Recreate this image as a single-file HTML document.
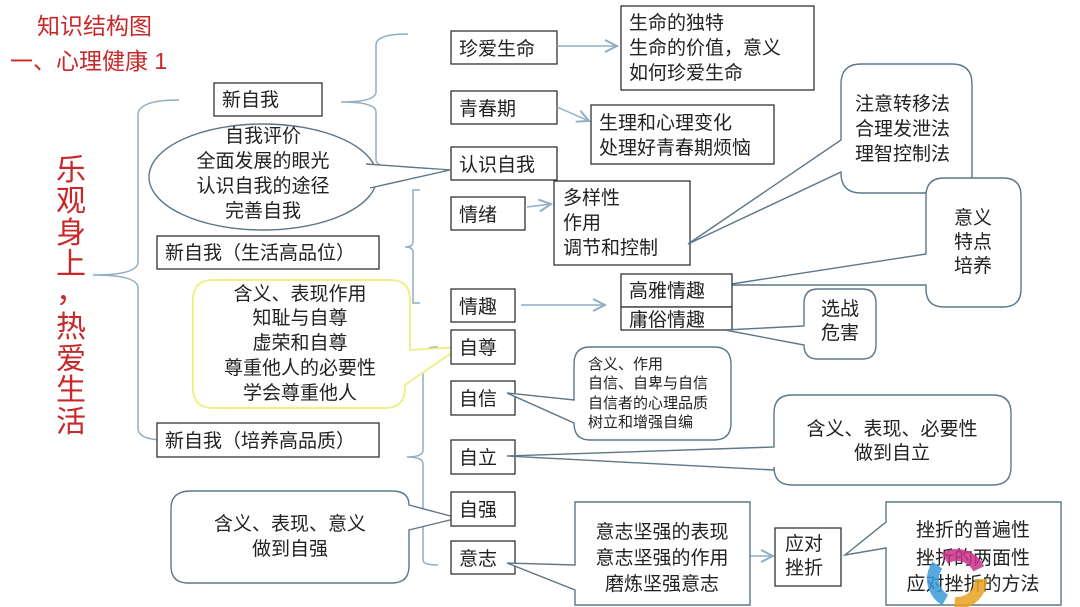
<!DOCTYPE html>
<html><head><meta charset="utf-8"><style>
html,body{margin:0;padding:0;background:#fff}
svg{display:block}
text{font-family:"Liberation Sans","Noto Sans CJK SC",sans-serif;fill:#222;font-size:19px}
.r{fill:#c8282a}
.b{fill:#fff;stroke:#333;stroke-width:1.3}
.c{fill:none;stroke:#8fadc4;stroke-width:1.5}
.t{fill:#fff;stroke:#5d7688;stroke-width:1.4}
.m{text-anchor:middle}
</style></head><body>
<svg width="1080" height="607" viewBox="0 0 1080 607" xmlns="http://www.w3.org/2000/svg">
<defs><marker id="a" markerWidth="10" markerHeight="10" refX="9" refY="5" orient="auto"><path d="M1,1 L9,5 L1,9" fill="none" stroke="#8fadc4" stroke-width="1.3"/></marker></defs>

<text x="37" y="34" class="r" style="font-size:23px">知识结构图</text>
<text x="10" y="69" class="r" style="font-size:23px">一、心理健康 1</text>
<text x="56" y="180" class="r" style="font-size:30px">乐</text>
<text x="56" y="211" class="r" style="font-size:30px">观</text>
<text x="56" y="243" class="r" style="font-size:30px">身</text>
<text x="56" y="274" class="r" style="font-size:30px">上</text>
<text x="56" y="302" class="r" style="font-size:30px">，</text>
<text x="56" y="337" class="r" style="font-size:30px">热</text>
<text x="56" y="369" class="r" style="font-size:30px">爱</text>
<text x="56" y="400" class="r" style="font-size:30px">生</text>
<text x="56" y="432" class="r" style="font-size:30px">活</text>

<!-- braces -->
<path class="c" d="M179,100 Q138,100 138,115 L138,262 Q138,275 93,275 Q138,275 138,288 L138,428 Q138,440 165,440"/>
<path class="c" d="M408,34 Q376,34 376,45 L376,92 Q376,102 341,102 Q376,102 376,112 L376,160 Q376,168 408,168"/>
<path class="c" d="M420,190 L413,190 L413,242 Q413,247 405,247 Q413,247 413,252 L413,303 L420,303"/>
<path class="c" d="M438,347 Q423,347 423,355 L423,450 Q423,457 407,457 Q423,457 423,464 L423,560 Q423,565 438,565"/>

<!-- left boxes -->
<rect class="b" x="214" y="83" width="108" height="33"/>
<text x="222" y="106">新自我</text>
<ellipse cx="263" cy="177" rx="114" ry="53" fill="#fff" stroke="#5d7688" stroke-width="1.4"/>
<path d="M366,164 L450,170 L370,188" fill="#fff" stroke="#5d7688" stroke-width="1.4"/>
<path d="M362,166 L444,170 L366,185 Z" fill="#fff"/>
<text x="263" y="142" class="m">自我评价</text>
<text x="263" y="167" class="m">全面发展的眼光</text>
<text x="263" y="192" class="m">认识自我的途径</text>
<text x="263" y="217" class="m">完善自我</text>
<rect class="b" x="157" y="236" width="222" height="33"/>
<text x="165" y="259">新自我（生活高品位）</text>

<path d="M213,280 L390,280 Q410,280 410,300 L410,350 L460,347 L405,385 L405,388 Q405,408 385,408 L213,408 Q193,408 193,388 L193,300 Q193,280 213,280 Z" fill="#fff" stroke="#eef08a" stroke-width="2"/>
<text x="300" y="300" class="m">含义、表现作用</text>
<text x="300" y="324" class="m">知耻与自尊</text>
<text x="300" y="349" class="m">虚荣和自尊</text>
<text x="300" y="374" class="m">尊重他人的必要性</text>
<text x="300" y="399" class="m">学会尊重他人</text>
<rect class="b" x="157" y="423" width="222" height="34"/>
<text x="165" y="447">新自我（培养高品质）</text>

<path class="t" d="M191,491 L392,491 Q409,491 409,505 L458,518 L409,530 L409,566 Q409,583 392,583 L188,583 Q171,583 171,566 L171,508 Q171,491 191,491 Z"/>
<text x="290" y="530" class="m">含义、表现、意义</text>
<text x="290" y="555" class="m">做到自强</text>

<!-- column 2 -->
<rect class="b" x="451" y="31" width="106" height="33"/><text x="459" y="55">珍爱生命</text>
<rect class="b" x="451" y="91" width="106" height="33"/><text x="459" y="115">青春期</text>
<rect class="b" x="451" y="147" width="106" height="33"/><text x="459" y="171">认识自我</text>
<rect class="b" x="451" y="197" width="74" height="33"/><text x="459" y="221">情绪</text>
<rect class="b" x="451" y="289" width="64" height="33"/><text x="459" y="313">情趣</text>
<rect class="b" x="451" y="330" width="64" height="34"/><text x="459" y="354">自尊</text>
<rect class="b" x="451" y="381" width="64" height="34"/><text x="459" y="405">自信</text>
<rect class="b" x="451" y="440" width="64" height="34"/><text x="459" y="464">自立</text>
<rect class="b" x="451" y="492" width="64" height="34"/><text x="459" y="516">自强</text>
<rect class="b" x="451" y="541" width="64" height="33"/><text x="459" y="565">意志</text>

<!-- arrows -->
<line class="c" x1="557" y1="46" x2="617" y2="46" marker-end="url(#a)"/>
<line class="c" x1="557" y1="107" x2="589" y2="121" marker-end="url(#a)"/>
<line class="c" x1="527" y1="207" x2="551" y2="204" marker-end="url(#a)"/>
<line class="c" x1="521" y1="305" x2="605" y2="305" marker-end="url(#a)"/>
<line class="c" x1="750" y1="556" x2="773" y2="556" marker-end="url(#a)"/>

<!-- right boxes -->
<rect class="b" x="621" y="6" width="193" height="84"/>
<text x="629" y="29">生命的独特</text><text x="629" y="54">生命的价值，意义</text><text x="629" y="79">如何珍爱生命</text>
<rect class="b" x="591" y="105" width="183" height="59"/>
<text x="599" y="129">生理和心理变化</text><text x="599" y="154">处理好青春期烦恼</text>
<rect class="b" x="554" y="181" width="136" height="84"/>
<text x="563" y="204">多样性</text><text x="563" y="229">作用</text><text x="563" y="254">调节和控制</text>

<path class="t" d="M861,64 L952,64 Q972,64 972,84 L972,173 Q972,193 952,193 L861,193 Q841,193 841,173 L841,172 L688,244 L841,140 L841,84 Q841,64 861,64 Z"/>
<text x="855" y="110">注意转移法</text><text x="855" y="135">合理发泄法</text><text x="855" y="160">理智控制法</text>

<path class="t" d="M944,178 L1003,178 Q1021,178 1021,196 L1021,289 Q1021,307 1003,307 L944,307 Q926,307 926,289 L926,285 L725,285 L926,254 L926,196 Q926,178 944,178 Z"/>
<text x="973" y="224" class="m">意义</text><text x="973" y="248" class="m">特点</text><text x="973" y="272" class="m">培养</text>

<rect class="b" x="621" y="274" width="111" height="33"/><text x="629" y="297">高雅情趣</text>
<rect class="b" x="621" y="307" width="111" height="23"/><text x="629" y="326">庸俗情趣</text>

<path class="t" d="M818,289 L862,289 Q876,289 876,303 L876,345 Q876,359 862,359 L818,359 Q804,359 804,345 L725,330 L804,326 L804,303 Q804,289 818,289 Z"/>
<text x="840" y="315" class="m">选战</text><text x="840" y="339" class="m">危害</text>

<path class="t" d="M590,347 L714,347 Q731,347 731,364 L731,423 Q731,440 714,440 L590,440 Q574,440 574,423 L507,393 L574,400 L574,364 Q574,347 590,347 Z"/>
<text x="588" y="369" style="font-size:15px">含义、作用</text>
<text x="588" y="388" style="font-size:15px">自信、自卑与自信</text>
<text x="588" y="408" style="font-size:15px">自信者的心理品质</text>
<text x="588" y="427" style="font-size:15px">树立和增强自编</text>

<path class="t" d="M792,395 L993,395 Q1011,395 1011,413 L1011,467 Q1011,485 993,485 L792,485 Q774,485 774,467 L774,470 L507,456 L774,447 L774,413 Q774,395 792,395 Z"/>
<text x="892" y="435" class="m">含义、表现、必要性</text><text x="892" y="459" class="m">做到自立</text>

<path class="t" d="M575,502 L750,502 L750,605 L575,605 L575,590 L507,563 L575,565 Z"/>
<text x="662" y="538" class="m">意志坚强的表现</text><text x="662" y="564" class="m">意志坚强的作用</text><text x="662" y="590" class="m">磨炼坚强意志</text>

<rect class="b" x="775" y="528" width="66" height="58"/>
<text x="785" y="550">应对</text><text x="785" y="574">挫折</text>

<path class="t" d="M886,502 L1061,502 L1061,605 L886,605 L886,548 L845,555 L886,522 Z"/>
<text x="973" y="536" class="m">挫折的普遍性</text><text x="973" y="564" class="m">挫折的两面性</text><text x="973" y="590" class="m">应对挫折的方法</text>

<circle cx="957" cy="579" r="24" fill="none" stroke="#e8a020" stroke-width="12" stroke-dasharray="40 111" opacity="0.85"/>
<circle cx="957" cy="579" r="24" fill="none" stroke="#3a9ad8" stroke-width="12" stroke-dasharray="40 111" stroke-dashoffset="-50" opacity="0.85"/>
<circle cx="957" cy="579" r="24" fill="none" stroke="#c8308a" stroke-width="12" stroke-dasharray="40 111" stroke-dashoffset="-100" opacity="0.85"/>
</svg>
</body></html>
